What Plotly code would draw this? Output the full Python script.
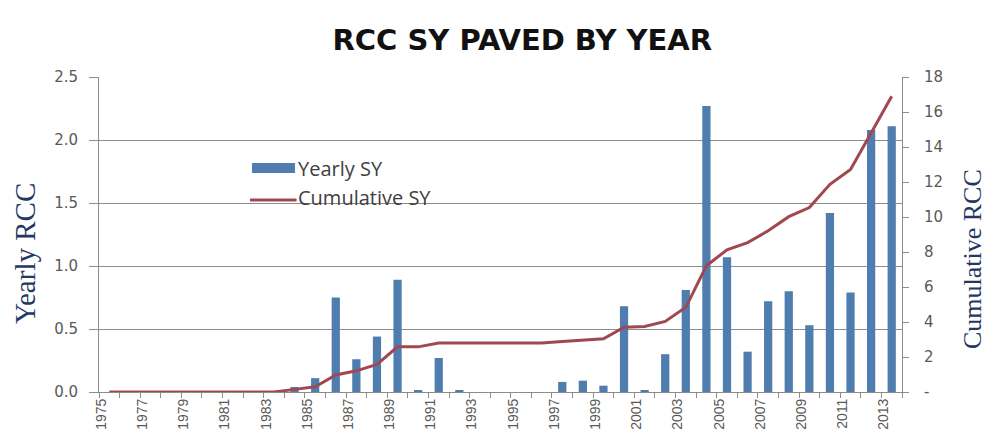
import plotly.graph_objects as go

# Yearly and cumulative RCC square yards paved, 1975-2013
years = list(range(1975, 2014))
yearly_sy = [0, 0, 0, 0, 0, 0, 0, 0, 0, 0.04, 0.11, 0.75, 0.26, 0.44, 0.89,
             0.01, 0.27, 0.01, 0, 0, 0, 0, 0.08, 0.09, 0.05, 0.68, 0.01, 0.30,
             0.81, 2.27, 1.07, 0.32, 0.72, 0.80, 0.53, 1.42, 0.79, 2.08, 2.11]
cumulative_sy = [0, 0, 0, 0, 0, 0, 0, 0, 0, 0.15, 0.3, 0.97, 1.21, 1.58, 2.58,
                 2.58, 2.8, 2.8, 2.8, 2.8, 2.8, 2.8, 2.89, 2.98, 3.04, 3.7,
                 3.74, 4.03, 4.84, 7.21, 8.13, 8.54, 9.21, 10.02, 10.54, 11.87,
                 12.72, 14.8, 16.9]
label_years = years[::2]
left_ticks = [0, 0.5, 1.0, 1.5, 2.0, 2.5]
left_ticktext = ["0.0", "0.5", "1.0", "1.5", "2.0", "2.5"]
right_ticks = [0, 2, 4, 6, 8, 10, 12, 14, 16, 18]
right_ticktext = ["-", "2", "4", "6", "8", "10", "12", "14", "16", "18"]
series_names = ["Yearly SY", "Cumulative SY"]

BAR_BLUE = "#4F7DB0"
LINE_RED = "#A04850"
AXIS_GRAY = "#8C8C8C"
TICK_GRAY = "#595959"
NAVY = "#1F3864"
SERIF = "Liberation Serif, serif"

fig = go.Figure()
fig.add_trace(go.Bar(
    x=years, y=yearly_sy, name=series_names[0],
    marker=dict(color=BAR_BLUE, line=dict(width=0)),
    width=0.4, yaxis="y",
))
fig.add_trace(go.Scatter(
    x=years, y=cumulative_sy, name=series_names[1], mode="lines",
    line=dict(color=LINE_RED, width=3), yaxis="y2",
))

# Legend keys drawn by hand so the bar key is a wide swatch
fig.add_shape(type="rect", xref="paper", yref="paper",
              x0=0.1905, x1=0.2441, y0=0.695, y1=0.727,
              fillcolor=BAR_BLUE, line=dict(width=0))
fig.add_shape(type="line", xref="paper", yref="paper",
              x0=0.188, x1=0.246, y0=0.6095, y1=0.6095,
              line=dict(color=LINE_RED, width=3))
legend_font = dict(family="Open Sans, sans-serif", size=20, color="#404040")
fig.add_annotation(text=series_names[0], xref="paper", yref="paper",
                   x=0.2455, y=0.709, xanchor="left", yanchor="middle",
                   showarrow=False, font=legend_font)
fig.add_annotation(text=series_names[1], xref="paper", yref="paper",
                   x=0.2455, y=0.619, xanchor="left", yanchor="middle",
                   showarrow=False, font=legend_font)

# Axis titles
fig.add_annotation(text="Yearly RCC", xref="paper", yref="paper",
                   x=-0.0922, y=0.441, textangle=-90, showarrow=False,
                   xanchor="center", yanchor="middle", borderpad=0,
                   font=dict(family=SERIF, size=29, color=NAVY))
fig.add_annotation(text="Cumulative RCC", xref="paper", yref="paper",
                   x=1.0872, y=0.422, textangle=-90, showarrow=False,
                   xanchor="center", yanchor="middle", borderpad=0,
                   font=dict(family=SERIF, size=26, color=NAVY))

fig.update_layout(
    width=991, height=431,
    margin=dict(l=99, r=89, t=77, b=39),
    paper_bgcolor="white", plot_bgcolor="white",
    showlegend=False,
    title=dict(
        text="<b>RCC SY PAVED BY YEAR</b>",
        x=0.527, xanchor="center", y=0.907, yanchor="middle",
        font=dict(family="DejaVu Sans, sans-serif", size=29, color="#111111"),
    ),
    xaxis=dict(
        range=[1974.5, 2013.5], automargin=False,
        tickmode="array", tickvals=label_years,
        ticktext=[str(y) for y in label_years],
        tickangle=-90, ticklabelshift=-8,
        tickfont=dict(family="Liberation Sans, Arial, sans-serif", size=14, color=TICK_GRAY),
        ticks="", showgrid=False,
        showline=True, linecolor=AXIS_GRAY, linewidth=1,
        minor=dict(tickvals=[y - 0.5 for y in years] + [2013.5],
                   ticks="outside", ticklen=5, tickcolor=AXIS_GRAY, showgrid=False),
        zeroline=False,
    ),
    yaxis=dict(
        range=[0, 2.5], automargin=False,
        tickmode="array", tickvals=left_ticks, ticktext=left_ticktext,
        tickfont=dict(family="DejaVu Sans, sans-serif", size=15, color=TICK_GRAY),
        ticks="outside", ticklen=9, tickcolor=AXIS_GRAY, ticklabelstandoff=8,
        showgrid=True, gridcolor="#8C8C8C", gridwidth=1,
        showline=True, linecolor=AXIS_GRAY, linewidth=1,
        zeroline=False,
    ),
    yaxis2=dict(
        range=[0, 18], overlaying="y", side="right", automargin=False,
        tickmode="array", tickvals=right_ticks, ticktext=right_ticktext,
        tickfont=dict(family="DejaVu Sans, sans-serif", size=15, color=TICK_GRAY),
        ticks="outside", ticklen=6, tickcolor=AXIS_GRAY, ticklabelstandoff=12,
        showgrid=False,
        showline=True, linecolor=AXIS_GRAY, linewidth=1,
        zeroline=False,
    ),
    bargap=0.5,
)

fig.write_html("out.html")
